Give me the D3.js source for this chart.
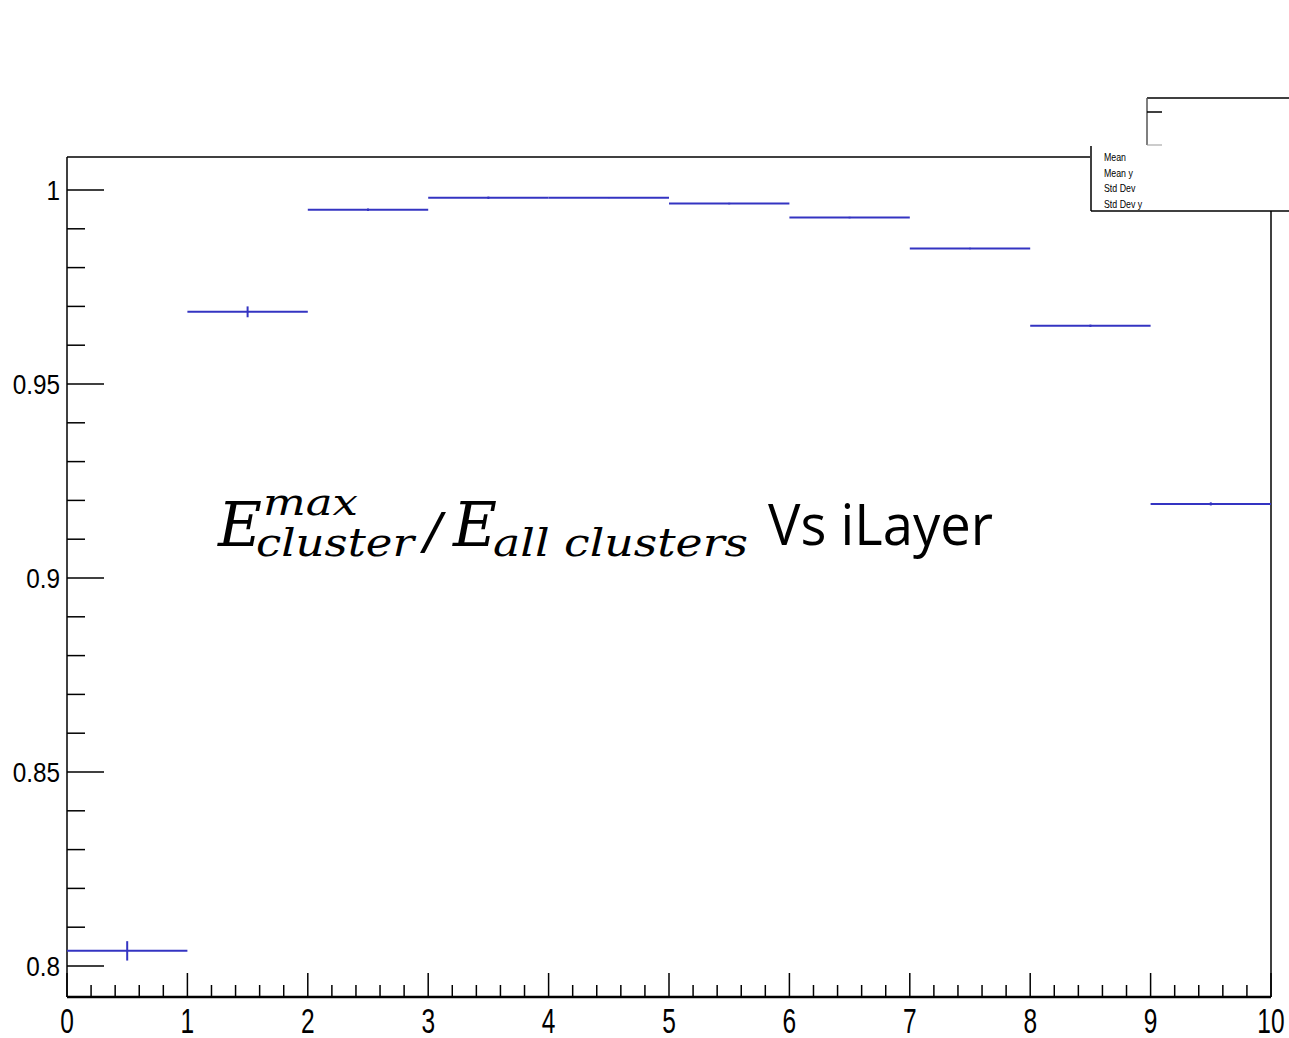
<!DOCTYPE html>
<html>
<head>
<meta charset="utf-8">
<script src="https://cdn.jsdelivr.net/npm/d3@7"></script>
<style>
  body { margin: 0; background: #fff; }
  svg { display: block; }
</style>
</head>
<body>
<div class="chart"></div>
<script>
// bin layout and contents (iLayer 0..9)
const binEdges = [0, 1, 2, 3, 4, 5, 6, 7, 8, 9, 10];
const binValues = [0.8039, 0.9686, 0.9949, 0.9980, 0.9980, 0.9965, 0.9929, 0.9849, 0.9650, 0.9191];
const binErrors = [0.0025, 0.0014, 0.0003, 0.0003, 0.0001, 0.0002, 0.0002, 0.0002, 0.0003, 0.0004];
const xTickLabels = [0, 1, 2, 3, 4, 5, 6, 7, 8, 9, 10];
const yTickLabels = [0.8, 0.85, 0.9, 0.95, 1];
const statLabels = ['Mean', 'Mean y', 'Std Dev', 'Std Dev y'];

const width = 1289, height = 1038;
const svg = d3.select('.chart').append('svg')
    .attr('width', width).attr('height', height);

const padL = 67, padR = 1271, padT = 157, padB = 997;

const x = d3.scaleLinear().domain([0, 10]).range([padL, padR]);
const y = d3.scaleLinear().domain([0.8, 1]).range([966, 190]);

// squeeze text horizontally (ROOT fonts look condensed)
function condense(sel, k) {
    sel.each(function() {
        const w = this.getComputedTextLength();
        d3.select(this).attr('textLength', w * k).attr('lengthAdjust', 'spacingAndGlyphs');
    });
}

// frame
svg.append('line').attr('x1', padL).attr('x2', 1090).attr('y1', padT).attr('y2', padT)
    .attr('stroke', '#000').attr('stroke-width', 1.5);
svg.append('line').attr('x1', padL).attr('x2', padL).attr('y1', padT).attr('y2', padB)
    .attr('stroke', '#000').attr('stroke-width', 1.5);
svg.append('line').attr('x1', padR).attr('x2', padR).attr('y1', 211).attr('y2', padB)
    .attr('stroke', '#000').attr('stroke-width', 1.5);

// x axis
const xMinor = d3.range(0, 10.001, 0.2).filter(v => Math.abs(v - Math.round(v)) > 1e-6);
const gx = svg.append('g').attr('transform', 'translate(0,' + padB + ')');
gx.append('line').attr('x1', padL).attr('x2', padR).attr('y1', 0).attr('y2', 0)
    .attr('stroke', '#000').attr('stroke-width', 2.5);
gx.selectAll('.xmaj').data(xTickLabels).join('line').attr('class', 'xmaj')
    .attr('x1', d => x(d)).attr('x2', d => x(d)).attr('y1', 0).attr('y2', -24)
    .attr('stroke', '#000').attr('stroke-width', 1.5);
gx.selectAll('.xmin').data(xMinor).join('line').attr('class', 'xmin')
    .attr('x1', d => x(d)).attr('x2', d => x(d)).attr('y1', 0).attr('y2', -12)
    .attr('stroke', '#000').attr('stroke-width', 1.5);
gx.selectAll('text').data(xTickLabels).join('text')
    .attr('x', d => x(d)).attr('y', 36)
    .attr('text-anchor', 'middle')
    .style('font-family', '"Liberation Sans", Arial, sans-serif')
    .style('font-size', '35px')
    .text(d => d)
    .call(condense, 0.7);

// y axis
const yMinor = d3.range(0.8, 1.0001, 0.01).filter(v => Math.abs(v * 20 - Math.round(v * 20)) > 1e-6);
const gy = svg.append('g');
gy.selectAll('.ymaj').data(yTickLabels).join('line').attr('class', 'ymaj')
    .attr('x1', padL).attr('x2', padL + 37).attr('y1', d => y(d)).attr('y2', d => y(d))
    .attr('stroke', '#000').attr('stroke-width', 1.5);
gy.selectAll('.ymin').data(yMinor).join('line').attr('class', 'ymin')
    .attr('x1', padL).attr('x2', padL + 18).attr('y1', d => y(d)).attr('y2', d => y(d))
    .attr('stroke', '#000').attr('stroke-width', 1.5);
gy.selectAll('text').data(yTickLabels).join('text')
    .attr('x', padL - 7).attr('y', d => y(d) + 10)
    .attr('text-anchor', 'end')
    .style('font-family', '"Liberation Sans", Arial, sans-serif')
    .style('font-size', '27px')
    .text(d => d)
    .call(condense, 0.9);

// histogram bins with errors
const bins = binValues.map((v, i) => ({x0: binEdges[i], x1: binEdges[i + 1], v: v, e: binErrors[i]}));
const hg = svg.append('g').attr('stroke', '#3434c2').attr('stroke-width', 2);
hg.selectAll('.h').data(bins).join('line').attr('class', 'h')
    .attr('x1', d => x(d.x0)).attr('x2', d => x(d.x1))
    .attr('y1', d => y(d.v)).attr('y2', d => y(d.v));
hg.selectAll('.e').data(bins).join('line').attr('class', 'e')
    .attr('x1', d => x((d.x0 + d.x1) / 2)).attr('x2', d => x((d.x0 + d.x1) / 2))
    .attr('y1', d => y(d.v - d.e)).attr('y2', d => y(d.v + d.e));

// stats boxes
const sb = svg.append('g').attr('stroke', '#000').attr('stroke-width', 1.5);
sb.append('line').attr('x1', 1147).attr('x2', 1289).attr('y1', 98).attr('y2', 98);
sb.append('line').attr('x1', 1147).attr('x2', 1147).attr('y1', 98).attr('y2', 145).attr('stroke', '#555');
sb.append('line').attr('x1', 1147).attr('x2', 1162).attr('y1', 112).attr('y2', 112);
sb.append('line').attr('x1', 1147).attr('x2', 1162).attr('y1', 145).attr('y2', 145).attr('stroke', '#999').attr('stroke-width', 1);
sb.append('line').attr('x1', 1091).attr('x2', 1091).attr('y1', 146).attr('y2', 211);
sb.append('line').attr('x1', 1091).attr('x2', 1289).attr('y1', 211).attr('y2', 211);

svg.selectAll('.stat').data(statLabels).join('text').attr('class', 'stat')
    .attr('x', 1104).attr('y', (d, i) => 161 + i * 15.5)
    .style('font-family', '"Liberation Sans", Arial, sans-serif')
    .style('font-size', '11px')
    .text(d => d)
    .call(condense, 0.8);

// title formula
const serif = '"DejaVu Serif", "Liberation Serif", serif';
const tg = svg.append('g').style('font-family', serif).style('font-style', 'italic').attr('fill', '#000');
tg.append('text').attr('x', 218).attr('y', 546).style('font-size', '62px')
    .attr('textLength', 44).attr('lengthAdjust', 'spacingAndGlyphs').text('E');
tg.append('text').attr('x', 263).attr('y', 515).style('font-size', '38px')
    .attr('textLength', 95).attr('lengthAdjust', 'spacingAndGlyphs').text('max');
tg.append('text').attr('x', 256).attr('y', 556).style('font-size', '40px')
    .attr('textLength', 158).attr('lengthAdjust', 'spacingAndGlyphs').text('cluster');
tg.append('text').attr('x', 420).attr('y', 552).style('font-size', '62px')
    .style('font-family', '"Liberation Serif", serif').style('font-style', 'normal')
    .attr('textLength', 26).attr('lengthAdjust', 'spacingAndGlyphs').text('/');
tg.append('text').attr('x', 453).attr('y', 546).style('font-size', '62px')
    .attr('textLength', 44).attr('lengthAdjust', 'spacingAndGlyphs').text('E');
tg.append('text').attr('x', 493).attr('y', 556).style('font-size', '40px')
    .attr('textLength', 255).attr('lengthAdjust', 'spacingAndGlyphs').text('all clusters');
svg.append('text').attr('x', 768).attr('y', 545)
    .style('font-family', '"Open Sans", "Noto Sans", sans-serif').style('font-size', '56px')
    .attr('textLength', 225).attr('lengthAdjust', 'spacingAndGlyphs').text('Vs iLayer');
</script>
</body>
</html>
